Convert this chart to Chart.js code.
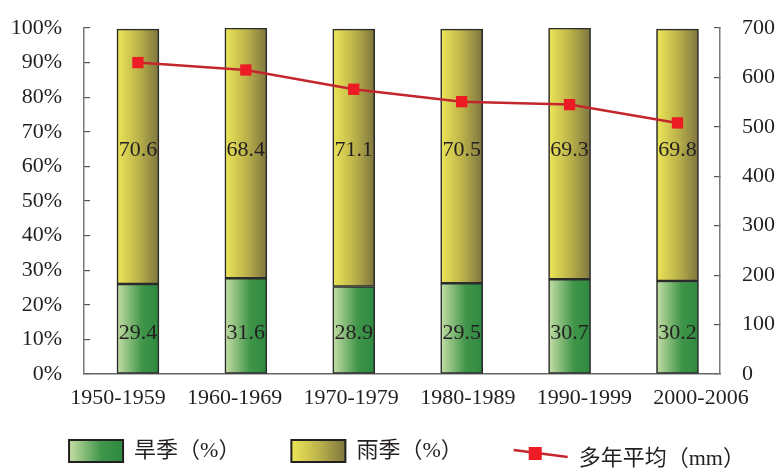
<!DOCTYPE html>
<html>
<head>
<meta charset="utf-8">
<script src="https://cdn.jsdelivr.net/npm/chart.js@4.4.1/dist/chart.umd.min.js"></script>
<style>
html, body { margin: 0; padding: 0; background: #ffffff; }
#wrap { width: 778px; height: 468px; }
</style>
</head>
<body>
<div id="wrap"><canvas id="c" width="778" height="468"></canvas></div>
<script>
// ---- data ----
const categories = ['1950-1959', '1960-1969', '1970-1979', '1980-1989', '1990-1999', '2000-2006'];
const dryShare = [26.0, 27.7, 25.3, 26.2, 27.4, 26.9];      // drawn height of green segment (%)
const wetShare = [73.7, 72.3, 74.4, 73.5, 72.6, 72.8];      // drawn height of yellow segment (%)
const dryLabels = ['29.4', '31.6', '28.9', '29.5', '30.7', '30.2'];
const wetLabels = ['70.6', '68.4', '71.1', '70.5', '69.3', '69.8'];
const annualMean = [630, 615, 576, 551, 545, 508];          // mm
const seriesNames = ['旱季（%）', '雨季（%）', '多年平均（mm）'];

// ---- styling ----
const FONT = "'Liberation Serif', 'Noto Sans CJK SC', serif";
const TEXT = '#231f20';
const greenStops = [[0, '#c6dfa6'], [0.6, '#3f9549'], [1, '#2d8a40']];
const yellowStops = [[0, '#ede657'], [0.5, '#bdb44b'], [1, '#7e753f']];
const BAR_W = 42;
const LEG_BOX = 54;

const toPoints = (arr) => arr.map((v, i) => ({ x: i, y: v }));

function hGrad(stops) {
  return (c) => {
    const chart = c.chart;
    const xs = chart.scales && chart.scales.xb;
    if (c.type !== 'data' || !xs) return stops[stops.length - 1][1];
    const xv = c.parsed ? c.parsed.x : c.dataIndex;
    const cx = xs.getPixelForValue(xv);
    const g = chart.ctx.createLinearGradient(cx - BAR_W / 2, 0, cx + BAR_W / 2, 0);
    stops.forEach(([o, col]) => g.addColorStop(o, col));
    return g;
  };
}

const decor = {
  id: 'decor',
  beforeDraw(chart) {
    const lg = chart.legend;
    if (!lg || !lg.legendHitBoxes || !lg.legendItems) return;
    const ctx = chart.ctx;
    [greenStops, yellowStops].forEach((stops, i) => {
      const hb = lg.legendHitBoxes[i];
      const it = lg.legendItems[i];
      if (!hb || !it) return;
      const g = ctx.createLinearGradient(hb.left, 0, hb.left + LEG_BOX, 0);
      stops.forEach(([o, col]) => g.addColorStop(o, col));
      it.fillStyle = g;
    });
  },
  afterDatasetsDraw(chart) {
    const ctx = chart.ctx;
    const xs = chart.scales.xb, ys = chart.scales.y;
    ctx.save();
    ctx.font = '22px ' + FONT;
    ctx.fillStyle = TEXT;
    ctx.textAlign = 'center';
    ctx.textBaseline = 'middle';
    categories.forEach((_, i) => {
      const x = xs.getPixelForValue(i);
      ctx.fillText(dryLabels[i], x, ys.getPixelForValue(11.9));
      ctx.fillText(wetLabels[i], x, ys.getPixelForValue(64.8));
    });
    ctx.restore();
  },
  afterDraw(chart) {
    const lg = chart.legend;
    if (!lg || !lg.legendHitBoxes) return;
    const hb = lg.legendHitBoxes[2];
    if (!hb) return;
    const ctx = chart.ctx;
    ctx.save();
    ctx.strokeStyle = '#c4262e';
    ctx.lineWidth = 2.5;
    ctx.beginPath();
    ctx.moveTo(hb.left, hb.top + 10);
    ctx.lineTo(hb.left + LEG_BOX, hb.top + 17);
    ctx.stroke();
    ctx.fillStyle = '#ed1c24';
    ctx.fillRect(hb.left + 15, hb.top + 7, 13, 13);
    ctx.font = '22px ' + FONT;
    ctx.fillStyle = TEXT;
    ctx.textAlign = 'left';
    ctx.textBaseline = 'middle';
    ctx.fillText(seriesNames[2], hb.left + LEG_BOX + 11, hb.top + 19);
    ctx.restore();
  }
};

const tickFont = { family: FONT, size: 22 };
const fixVertical = (w) => (s) => { s.width = w; s.paddingTop = 0; s.paddingBottom = 0; };

new Chart(document.getElementById('c'), {
  type: 'bar',
  data: {
    datasets: [
      {
        type: 'bar', label: seriesNames[0], data: toPoints(dryShare),
        xAxisID: 'xb', yAxisID: 'y', order: 1,
        backgroundColor: hGrad(greenStops), borderColor: '#2b2b2b', borderWidth: 1.6,
        borderSkipped: false, barThickness: BAR_W
      },
      {
        type: 'bar', label: seriesNames[1], data: toPoints(wetShare),
        xAxisID: 'xb', yAxisID: 'y', order: 1,
        backgroundColor: hGrad(yellowStops), borderColor: '#2b2b2b', borderWidth: 1.6,
        borderSkipped: false, barThickness: BAR_W
      },
      {
        type: 'line', label: seriesNames[2], data: toPoints(annualMean),
        xAxisID: 'xb', yAxisID: 'y1', order: 0,
        borderColor: '#c4262e', borderWidth: 2.5, tension: 0, fill: false,
        pointStyle: 'rect', pointRadius: 8, pointBackgroundColor: '#ed1c24',
        pointBorderColor: '#ed1c24', pointBorderWidth: 0
      }
    ]
  },
  options: {
    responsive: false,
    devicePixelRatio: 1,
    animation: false,
    events: [],
    layout: { padding: { left: 0, right: -36, top: 28, bottom: -4 } },
    plugins: {
      tooltip: { enabled: false },
      legend: {
        display: true,
        position: 'bottom',
        align: 'center',
        labels: {
          boxWidth: LEG_BOX,
          boxHeight: 22,
          padding: 51,
          color: TEXT,
          font: { family: FONT, size: 22 },
          generateLabels: (chart) => chart.data.datasets.map((ds, i) => ({
            text: ds.label,
            datasetIndex: i,
            hidden: false,
            fillStyle: i < 2 ? '#999999' : 'rgba(0,0,0,0)',
            strokeStyle: '#231f20',
            lineWidth: i < 2 ? 2 : 0,
            fontColor: i < 2 ? TEXT : 'rgba(0,0,0,0)'
          }))
        }
      }
    },
    scales: {
      x: {
        type: 'linear', position: 'bottom', axis: 'x',
        min: -0.2916, max: 5.163, offset: false,
        grid: { display: true, drawOnChartArea: false, drawTicks: false, offset: false },
        border: { display: true, color: '#666666', width: 1.5 },
        ticks: {
          stepSize: 1, includeBounds: false, autoSkip: false, maxRotation: 0, minRotation: 0,
          mirror: true, padding: -37, color: TEXT, font: tickFont,
          callback: (v) => (categories[v] !== undefined ? categories[v] : '')
        },
        afterFit: (s) => { s.height = 15; s.paddingLeft = 0; s.paddingRight = 0; }
      },
      xb: {
        type: 'linear', axis: 'x', display: false, stacked: true, offset: false,
        min: -0.5, max: 5.394
      },
      y: {
        type: 'linear', position: 'left', stacked: true, min: 0, max: 100,
        grid: { drawOnChartArea: false, drawTicks: true, tickLength: -6, color: '#555555', lineWidth: 1.2 },
        border: { display: true, color: '#7a7a7a', width: 1.5 },
        ticks: { stepSize: 10, padding: 28, color: TEXT, font: tickFont, callback: (v) => v + '%' },
        afterFit: fixVertical(84)
      },
      y1: {
        type: 'linear', position: 'right', min: 0, max: 700,
        grid: { drawOnChartArea: false, drawTicks: true, tickLength: -6, color: '#555555', lineWidth: 1.2 },
        border: { display: true, color: '#7a7a7a', width: 1.5 },
        ticks: { stepSize: 100, padding: 28, color: TEXT, font: tickFont },
        afterFit: fixVertical(94)
      }
    }
  },
  plugins: [decor]
});
</script>
</body>
</html>
